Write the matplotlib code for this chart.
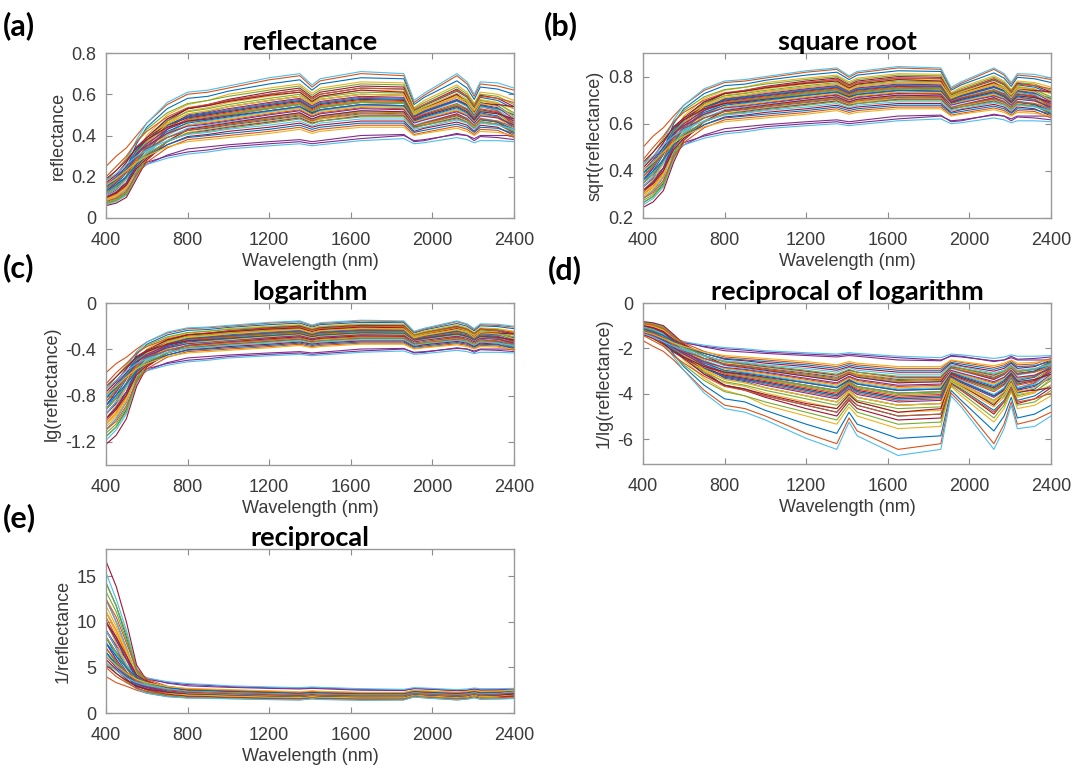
import matplotlib.pyplot as plt
import numpy as np

plt.rcParams['font.family'] = ['Liberation Sans', 'DejaVu Sans']
plt.rcParams['axes.unicode_minus'] = False

wavelength = [400, 450, 500, 550, 600, 700, 800, 900, 1000, 1200, 1350, 1410, 1450,
              1650, 1860, 1910, 1960, 2120, 2170, 2205, 2235, 2320, 2400]

# reflectance spectra, one list per sample
s01 = [0.15, 0.20, 0.27, 0.38, 0.46, 0.56, 0.61, 0.62, 0.64, 0.68, 0.70, 0.645, 0.675, 0.71, 0.70, 0.57, 0.605, 0.70, 0.66, 0.60, 0.66, 0.655, 0.63]
s02 = [0.25, 0.30, 0.34, 0.40, 0.46, 0.55, 0.60, 0.61, 0.63, 0.67, 0.69, 0.635, 0.665, 0.70, 0.69, 0.56, 0.595, 0.69, 0.65, 0.59, 0.65, 0.64, 0.62]
s03 = [0.13, 0.17, 0.24, 0.36, 0.44, 0.53, 0.58, 0.59, 0.615, 0.65, 0.67, 0.62, 0.65, 0.68, 0.675, 0.55, 0.585, 0.665, 0.63, 0.575, 0.635, 0.625, 0.60]
s04 = [0.10, 0.13, 0.19, 0.31, 0.40, 0.50, 0.55, 0.57, 0.60, 0.63, 0.65, 0.605, 0.63, 0.66, 0.655, 0.535, 0.57, 0.645, 0.61, 0.555, 0.61, 0.60, 0.57]
s05 = [0.18, 0.23, 0.29, 0.37, 0.43, 0.51, 0.555, 0.57, 0.59, 0.62, 0.64, 0.595, 0.62, 0.65, 0.645, 0.53, 0.56, 0.635, 0.60, 0.55, 0.60, 0.59, 0.55]
s06 = [0.08, 0.10, 0.14, 0.26, 0.36, 0.47, 0.53, 0.55, 0.575, 0.61, 0.63, 0.585, 0.61, 0.64, 0.635, 0.52, 0.55, 0.625, 0.59, 0.54, 0.595, 0.58, 0.54]
s07 = [0.12, 0.16, 0.22, 0.32, 0.39, 0.48, 0.53, 0.545, 0.57, 0.60, 0.62, 0.575, 0.60, 0.63, 0.625, 0.52, 0.545, 0.615, 0.585, 0.535, 0.585, 0.57, 0.53]
s08 = [0.20, 0.25, 0.30, 0.37, 0.42, 0.49, 0.535, 0.55, 0.57, 0.60, 0.62, 0.58, 0.60, 0.63, 0.625, 0.525, 0.55, 0.62, 0.59, 0.54, 0.59, 0.58, 0.56]
s09 = [0.09, 0.115, 0.16, 0.27, 0.36, 0.46, 0.52, 0.535, 0.56, 0.59, 0.61, 0.57, 0.59, 0.62, 0.615, 0.515, 0.54, 0.605, 0.575, 0.525, 0.575, 0.56, 0.50]
s10 = [0.14, 0.18, 0.24, 0.33, 0.39, 0.47, 0.515, 0.53, 0.55, 0.58, 0.60, 0.56, 0.585, 0.61, 0.605, 0.51, 0.535, 0.595, 0.57, 0.52, 0.57, 0.555, 0.51]
s11 = [0.07, 0.085, 0.12, 0.22, 0.32, 0.43, 0.50, 0.515, 0.54, 0.57, 0.59, 0.55, 0.575, 0.60, 0.595, 0.50, 0.525, 0.585, 0.56, 0.51, 0.56, 0.545, 0.49]
s12 = [0.17, 0.21, 0.27, 0.34, 0.39, 0.46, 0.505, 0.52, 0.54, 0.57, 0.59, 0.555, 0.575, 0.60, 0.595, 0.505, 0.53, 0.59, 0.565, 0.52, 0.565, 0.555, 0.53]
s13 = [0.11, 0.14, 0.20, 0.30, 0.37, 0.45, 0.495, 0.51, 0.53, 0.56, 0.58, 0.545, 0.565, 0.59, 0.585, 0.495, 0.52, 0.575, 0.55, 0.50, 0.55, 0.535, 0.48]
s14 = [0.065, 0.08, 0.11, 0.20, 0.30, 0.41, 0.48, 0.50, 0.52, 0.55, 0.57, 0.535, 0.555, 0.58, 0.575, 0.49, 0.51, 0.565, 0.54, 0.495, 0.54, 0.525, 0.47]
s15 = [0.15, 0.19, 0.25, 0.33, 0.38, 0.45, 0.49, 0.505, 0.52, 0.55, 0.57, 0.535, 0.555, 0.58, 0.575, 0.495, 0.515, 0.57, 0.545, 0.50, 0.545, 0.53, 0.50]
s16 = [0.09, 0.11, 0.155, 0.26, 0.34, 0.43, 0.48, 0.495, 0.51, 0.54, 0.56, 0.525, 0.545, 0.57, 0.565, 0.485, 0.505, 0.555, 0.53, 0.485, 0.53, 0.515, 0.46]
s17 = [0.13, 0.17, 0.23, 0.31, 0.36, 0.43, 0.47, 0.485, 0.50, 0.53, 0.55, 0.515, 0.535, 0.56, 0.555, 0.48, 0.50, 0.545, 0.525, 0.48, 0.525, 0.51, 0.47]
s18 = [0.075, 0.09, 0.125, 0.22, 0.31, 0.41, 0.465, 0.48, 0.50, 0.53, 0.55, 0.515, 0.535, 0.56, 0.555, 0.475, 0.495, 0.545, 0.52, 0.475, 0.52, 0.505, 0.45]
s19 = [0.19, 0.23, 0.28, 0.34, 0.38, 0.44, 0.47, 0.48, 0.495, 0.52, 0.54, 0.51, 0.525, 0.55, 0.545, 0.475, 0.495, 0.54, 0.515, 0.475, 0.515, 0.505, 0.48]
s20 = [0.10, 0.125, 0.17, 0.27, 0.34, 0.42, 0.46, 0.475, 0.49, 0.52, 0.54, 0.505, 0.525, 0.55, 0.545, 0.47, 0.49, 0.535, 0.51, 0.47, 0.51, 0.495, 0.44]
s21 = [0.085, 0.105, 0.145, 0.24, 0.32, 0.405, 0.45, 0.465, 0.48, 0.51, 0.53, 0.50, 0.515, 0.54, 0.535, 0.465, 0.48, 0.525, 0.50, 0.465, 0.50, 0.485, 0.43]
s22 = [0.16, 0.20, 0.25, 0.31, 0.35, 0.41, 0.445, 0.455, 0.47, 0.50, 0.52, 0.49, 0.505, 0.53, 0.525, 0.46, 0.475, 0.515, 0.495, 0.46, 0.495, 0.485, 0.45]
s23 = [0.11, 0.14, 0.19, 0.27, 0.32, 0.39, 0.435, 0.45, 0.465, 0.49, 0.51, 0.48, 0.495, 0.52, 0.515, 0.45, 0.465, 0.505, 0.485, 0.45, 0.485, 0.47, 0.42]
s24 = [0.06, 0.072, 0.10, 0.19, 0.28, 0.37, 0.43, 0.445, 0.46, 0.49, 0.51, 0.48, 0.495, 0.52, 0.515, 0.445, 0.46, 0.505, 0.48, 0.445, 0.48, 0.465, 0.41]
s25 = [0.14, 0.175, 0.225, 0.29, 0.33, 0.39, 0.425, 0.44, 0.455, 0.48, 0.50, 0.47, 0.485, 0.51, 0.505, 0.445, 0.46, 0.50, 0.48, 0.445, 0.48, 0.47, 0.44]
s26 = [0.09, 0.11, 0.15, 0.24, 0.30, 0.37, 0.415, 0.43, 0.445, 0.47, 0.49, 0.465, 0.48, 0.50, 0.50, 0.44, 0.455, 0.49, 0.47, 0.44, 0.47, 0.455, 0.41]
s27 = [0.12, 0.15, 0.20, 0.27, 0.31, 0.37, 0.41, 0.42, 0.435, 0.46, 0.48, 0.455, 0.47, 0.49, 0.49, 0.435, 0.45, 0.48, 0.465, 0.435, 0.465, 0.455, 0.42]
s28 = [0.18, 0.215, 0.26, 0.30, 0.33, 0.375, 0.405, 0.415, 0.43, 0.45, 0.47, 0.445, 0.46, 0.48, 0.48, 0.43, 0.44, 0.475, 0.46, 0.43, 0.46, 0.45, 0.43]
s29 = [0.10, 0.12, 0.16, 0.24, 0.29, 0.355, 0.395, 0.405, 0.42, 0.44, 0.46, 0.44, 0.45, 0.47, 0.47, 0.42, 0.435, 0.465, 0.45, 0.42, 0.45, 0.44, 0.40]
s30 = [0.13, 0.16, 0.20, 0.26, 0.30, 0.355, 0.39, 0.40, 0.41, 0.43, 0.45, 0.43, 0.44, 0.46, 0.46, 0.415, 0.425, 0.455, 0.44, 0.415, 0.44, 0.435, 0.41]
s31 = [0.08, 0.095, 0.13, 0.21, 0.27, 0.34, 0.38, 0.39, 0.40, 0.42, 0.44, 0.42, 0.43, 0.45, 0.45, 0.405, 0.415, 0.445, 0.43, 0.405, 0.43, 0.425, 0.39]
s32 = [0.16, 0.19, 0.23, 0.27, 0.30, 0.345, 0.37, 0.38, 0.39, 0.41, 0.43, 0.41, 0.42, 0.44, 0.44, 0.40, 0.41, 0.435, 0.42, 0.40, 0.42, 0.415, 0.40]
s33 = [0.11, 0.135, 0.17, 0.22, 0.26, 0.305, 0.335, 0.345, 0.355, 0.37, 0.38, 0.37, 0.375, 0.40, 0.405, 0.37, 0.375, 0.41, 0.40, 0.375, 0.395, 0.39, 0.38]
s34 = [0.12, 0.15, 0.19, 0.24, 0.27, 0.30, 0.32, 0.33, 0.345, 0.36, 0.37, 0.36, 0.365, 0.385, 0.40, 0.375, 0.38, 0.405, 0.40, 0.385, 0.40, 0.40, 0.40]
s35 = [0.13, 0.155, 0.19, 0.23, 0.26, 0.29, 0.31, 0.32, 0.335, 0.35, 0.36, 0.35, 0.355, 0.375, 0.385, 0.36, 0.365, 0.39, 0.38, 0.365, 0.375, 0.375, 0.37]
s36 = [0.11, 0.14, 0.20, 0.31, 0.39, 0.48, 0.53, 0.545, 0.565, 0.595, 0.61, 0.565, 0.59, 0.62, 0.61, 0.50, 0.53, 0.60, 0.56, 0.50, 0.55, 0.52, 0.45]
s37 = [0.095, 0.12, 0.17, 0.28, 0.35, 0.44, 0.49, 0.505, 0.525, 0.555, 0.575, 0.54, 0.56, 0.585, 0.58, 0.49, 0.515, 0.57, 0.545, 0.49, 0.54, 0.52, 0.46]
s38 = [0.14, 0.18, 0.24, 0.32, 0.37, 0.44, 0.475, 0.49, 0.505, 0.535, 0.555, 0.52, 0.54, 0.565, 0.56, 0.48, 0.50, 0.55, 0.525, 0.475, 0.52, 0.51, 0.48]
s39 = [0.08, 0.10, 0.14, 0.235, 0.315, 0.40, 0.45, 0.47, 0.485, 0.515, 0.535, 0.505, 0.52, 0.545, 0.54, 0.47, 0.485, 0.53, 0.505, 0.465, 0.505, 0.49, 0.44]
s40 = [0.12, 0.15, 0.205, 0.29, 0.34, 0.41, 0.45, 0.46, 0.475, 0.505, 0.525, 0.495, 0.51, 0.535, 0.53, 0.465, 0.48, 0.52, 0.50, 0.46, 0.50, 0.49, 0.45]
s41 = [0.07, 0.085, 0.115, 0.21, 0.29, 0.375, 0.425, 0.44, 0.455, 0.485, 0.505, 0.475, 0.49, 0.515, 0.51, 0.445, 0.46, 0.50, 0.48, 0.445, 0.48, 0.465, 0.42]
s42 = [0.15, 0.185, 0.235, 0.295, 0.335, 0.39, 0.425, 0.435, 0.45, 0.475, 0.495, 0.47, 0.48, 0.505, 0.50, 0.445, 0.455, 0.495, 0.475, 0.445, 0.475, 0.465, 0.43]
s43 = [0.10, 0.125, 0.17, 0.25, 0.305, 0.37, 0.41, 0.425, 0.44, 0.465, 0.485, 0.46, 0.47, 0.495, 0.495, 0.44, 0.45, 0.485, 0.465, 0.435, 0.465, 0.455, 0.415]
s44 = [0.17, 0.21, 0.27, 0.345, 0.39, 0.45, 0.485, 0.50, 0.515, 0.545, 0.565, 0.53, 0.55, 0.575, 0.57, 0.49, 0.515, 0.57, 0.55, 0.51, 0.555, 0.55, 0.54]
s45 = [0.10, 0.13, 0.185, 0.29, 0.365, 0.455, 0.505, 0.52, 0.54, 0.57, 0.59, 0.55, 0.575, 0.60, 0.595, 0.50, 0.525, 0.585, 0.555, 0.505, 0.555, 0.54, 0.49]

spectra = np.array([s03, s02, s04, s34, s05, s01, s06, s07, s08, s09, s33, s10, s35,
                    s36, s11, s37, s12, s13, s38, s14, s44, s15, s16, s45, s17, s18,
                    s39, s19, s20, s40, s21, s22, s41, s23, s24, s42, s25, s26, s43,
                    s27, s28, s29, s30, s31, s32])

panel_tags = ['(a)', '(b)', '(c)', '(d)', '(e)']
panel_titles = ['reflectance', 'square root', 'logarithm', 'reciprocal of logarithm', 'reciprocal']
panel_ylabels = ['reflectance', 'sqrt(reflectance)', 'lg(reflectance)', '1/lg(reflectance)', '1/reflectance']
x_ticks = [400, 800, 1200, 1600, 2000, 2400]
y_ticks = [[0, 0.2, 0.4, 0.6, 0.8], [0.2, 0.4, 0.6, 0.8], [0, -0.4, -0.8, -1.2],
           [0, -2, -4, -6], [0, 5, 10, 15]]
y_ticklabels = [['0', '0.2', '0.4', '0.6', '0.8'], ['0.2', '0.4', '0.6', '0.8'],
                ['0', '-0.4', '-0.8', '-1.2'], ['0', '-2', '-4', '-6'], ['0', '5', '10', '15']]
y_limits = [(0, 0.8), (0.2, 0.9), (-1.4, 0), (-7.1, 0), (0, 18)]

transformed = [spectra, np.sqrt(spectra), np.log10(spectra),
               1 / np.log10(spectra), 1 / spectra]

matlab_colors = ['#0072BD', '#D95319', '#EDB120', '#7E2F8E', '#77AC30', '#4DBEEE', '#A2142F']

W, H = 1073, 769
# axes boxes in pixels: left, top, right, bottom
boxes = [(106, 53, 514, 218), (643, 53, 1051, 218), (106, 303, 514, 465),
         (643, 303, 1051, 464), (106, 549, 514, 713)]
tag_pos = [(3, 26), (544, 26), (3, 268), (548, 270), (3, 518)]

fig = plt.figure(figsize=(W / 100, H / 100), dpi=100)

for i in range(5):
    l, t, r, b = boxes[i]
    ax = fig.add_axes([l / W, 1 - b / H, (r - l) / W, (b - t) / H])
    ax.set_prop_cycle(color=matlab_colors)
    ax.plot(wavelength, transformed[i].T, lw=0.8)
    ax.set_xlim(400, 2400)
    ax.set_xticks(x_ticks)
    ax.set_ylim(*y_limits[i])
    ax.set_yticks(y_ticks[i])
    ax.set_yticklabels(y_ticklabels[i])
    ax.tick_params(direction='in', top=True, right=True, length=4, width=0.8,
                   color='#8c8c8c', labelsize=13, labelcolor='#3a3a3a')
    ax.tick_params(axis='x', pad=10)
    ax.tick_params(axis='y', pad=7)
    for sp in ax.spines.values():
        sp.set_color('#9a9a9a')
        sp.set_linewidth(1.0)
    ax.set_title(panel_titles[i], fontsize=19.5, fontweight='bold',
                 family=['Lato', 'DejaVu Sans'], pad=2)
    ax.set_xlabel('Wavelength (nm)', fontsize=13, color='#3a3a3a', labelpad=3)
    ax.set_ylabel(panel_ylabels[i], fontsize=13, color='#3a3a3a', labelpad=3)
    fig.text(tag_pos[i][0] / W, 1 - tag_pos[i][1] / H, panel_tags[i], fontsize=22,
             fontweight='bold', family=['Lato', 'DejaVu Sans'], va='center', ha='left')

fig.savefig('out.png', dpi=100)
